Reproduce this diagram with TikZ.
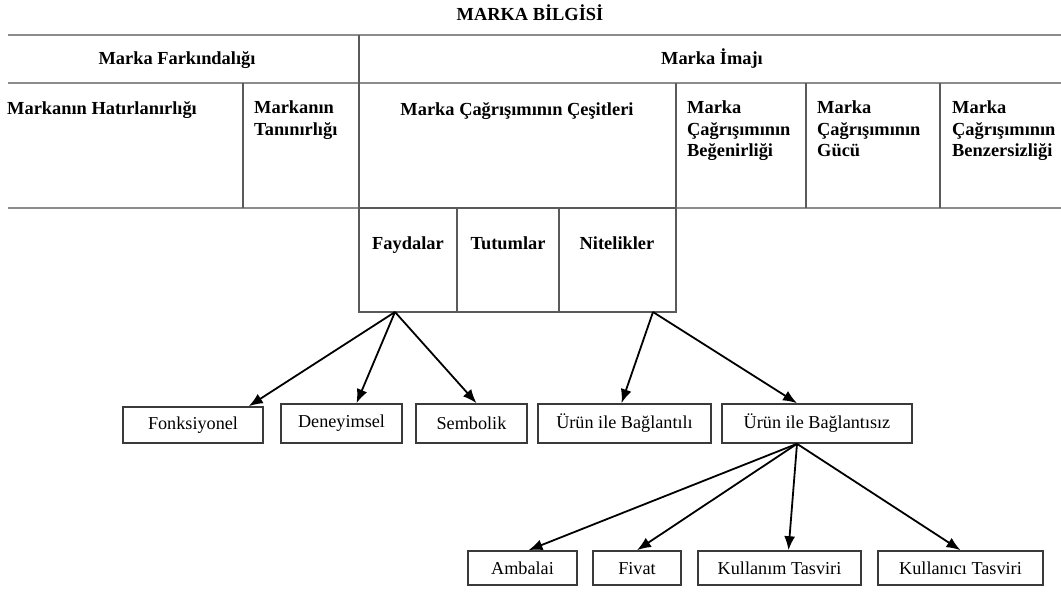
\documentclass[tikz,border=0pt]{standalone}
\usepackage{fontspec}
\setmainfont{Liberation Serif}
\usetikzlibrary{arrows.meta}

\definecolor{rulegray}{HTML}{8C8C8C}
\definecolor{cellgray}{HTML}{5A5A5A}
\definecolor{boxgray}{HTML}{3A3A3A}

\tikzset{
  rule/.style={draw=rulegray,line width=2pt},
  cellline/.style={draw=cellgray,line width=1.4pt},
  headtxt/.style={font=\bfseries\fontsize{18.4}{21.5}\selectfont,inner sep=0pt,anchor=base},
  celltxt/.style={font=\bfseries\fontsize{18.4}{21.5}\selectfont,inner sep=0pt,align=left,anchor=north west},
  itembox/.style={draw=boxgray,line width=1.6pt,inner sep=0pt,minimum height=39pt,
                  font=\fontsize{18.2}{20}\selectfont},
  smallbox/.style={itembox,minimum height=34pt,text height=15pt,text depth=3pt},
  arr/.style={-{Latex[length=14pt,width=11pt]},line width=1.8pt},
}

\begin{document}
\begin{tikzpicture}[x=1pt,y=-1pt]
    \useasboundingbox (0,0) rectangle (1061,592);
    %% Title
    \node[headtxt] (title) at (530,20) {MARKA BİLGİSİ};
    %% Table rules
    \draw[rule] (8,35) -- (1061,35);
    \draw[rule] (8,83) -- (1061,83);
    \draw[rule] (8,208) -- (1061,208);
    \draw[cellline] (359,35) -- (359,208);
    \draw[cellline] (243,83) -- (243,208);
    \foreach \x in {676,806,940}
        \draw[cellline] (\x,83) -- (\x,208);
    %% Header row
    \node[headtxt] (farkindalik) at (177,64) {Marka Farkındalığı};
    \node[headtxt] (imaj) at (712,64) {Marka İmajı};
    %% Second row
    \node[celltxt] (hatirlanirlik) at (7,101) {Markanın Hatırlanırlığı};
    \node[celltxt] (taninirlik) at (254,101) {Markanın\\Tanınırlığı};
    \node[headtxt] (cesitler) at (517,115) {Marka Çağrışımının Çeşitleri};
    \node[celltxt] (begenirlik) at (687,101) {Marka\\Çağrışımının\\Beğenirliği};
    \node[celltxt] (guc) at (817,101) {Marka\\Çağrışımının\\Gücü};
    \node[celltxt] (benzersizlik) at (952,101) {Marka\\Çağrışımının\\Benzersizliği};
    %% Kinds of association
    \draw[cellline] (359,208) rectangle (676,312);
    \draw[cellline] (457,208) -- (457,312);
    \draw[cellline] (559,208) -- (559,312);
    \node[headtxt] (faydalar) at (408,249) {Faydalar};
    \node[headtxt] (tutumlar) at (508,249) {Tutumlar};
    \node[headtxt] (nitelikler) at (617,249) {Nitelikler};
    \coordinate (fayout) at (395,312);
    \coordinate (nitout) at (653,312);
    %% Benefits and attributes
    \node[itembox,minimum width=140pt,minimum height=36pt] (fonk) at (193,425) {Fonksiyonel};
    \node[itembox,minimum width=121pt] (deney) at (341.5,423.5) {Deneyimsel};
    \node[itembox,minimum width=111pt] (semb) at (471.5,423.5) {Sembolik};
    \node[itembox,minimum width=173pt] (baglili) at (624.5,423.5) {Ürün ile Bağlantılı};
    \node[itembox,minimum width=190pt] (baglisiz) at (817,423.5) {Ürün ile Bağlantısız};
    %% Non product related
    \node[smallbox,minimum width=109pt] (ambalaj) at (522.5,568) {Ambalai};
    \node[smallbox,minimum width=88pt] (fiyat) at (637,568) {Fivat};
    \node[smallbox,minimum width=163pt] (kullanim) at (779.5,568) {Kullanım Tasviri};
    \node[smallbox,minimum width=165pt] (kullanici) at (960.5,568) {Kullanıcı Tasviri};
    %% Arrows
    \draw[arr] (fayout) -- ([xshift=-15pt]fonk.north east);
    \draw[arr] (fayout) -- ([xshift=15pt]deney.north);
    \draw[arr] (fayout) -- ([xshift=5pt]semb.north);
    \draw[arr] (nitout) -- ([xshift=-3pt]baglili.north);
    \draw[arr] (nitout) -- ([xshift=-20pt]baglisiz.north);
    \draw[arr] ([xshift=-20pt]baglisiz.south) -- ([xshift=6pt]ambalaj.north);
    \draw[arr] ([xshift=-20pt]baglisiz.south) -- (fiyat.north);
    \draw[arr] ([xshift=-20pt]baglisiz.south) -- ([xshift=9pt]kullanim.north);
    \draw[arr] ([xshift=-20pt]baglisiz.south) -- (kullanici.north);
\end{tikzpicture}
\end{document}
